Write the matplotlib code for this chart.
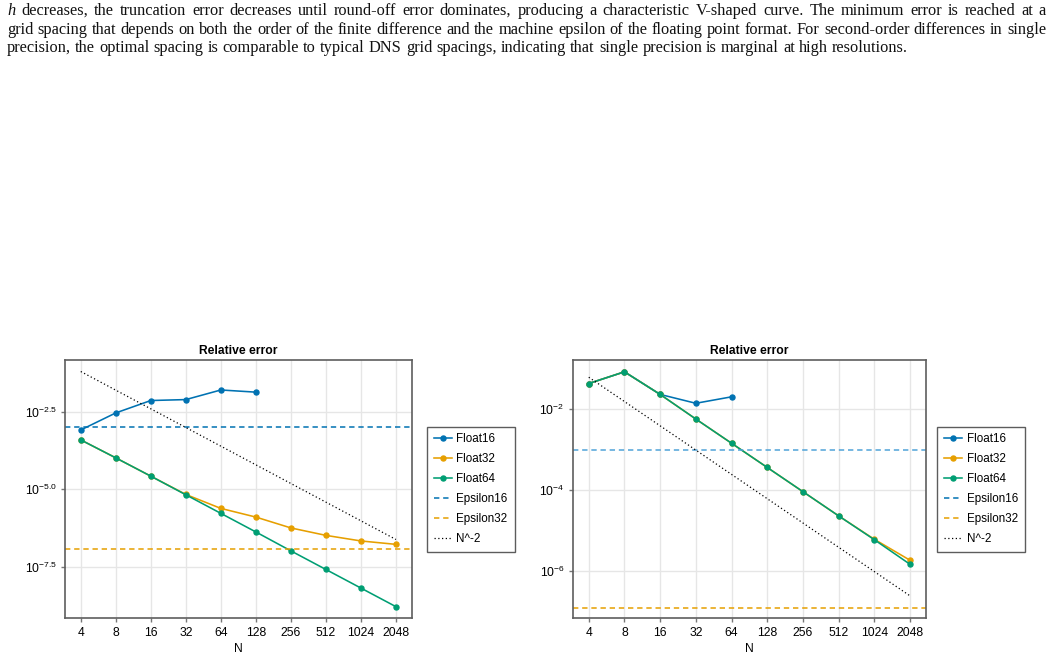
import numpy as np
import matplotlib
matplotlib.use("Agg")
import matplotlib.pyplot as plt

plt.rcParams["font.family"] = ["Liberation Sans", "DejaVu Sans"]
plt.rcParams["mathtext.fontset"] = "custom"
plt.rcParams["mathtext.rm"] = "Liberation Sans"
plt.rcParams["mathtext.it"] = "Liberation Sans:italic"

# data (log10 of the relative error)
N = [4, 8, 16, 32, 64, 128, 256, 512, 1024, 2048]

left_f16 = [-3.09, -2.54, -2.14, -2.11, -1.80, -1.87]
left_f32 = [-3.41, -3.99, -4.58, -5.17, -5.62, -5.90, -6.25, -6.49, -6.67, -6.78]
left_f64 = [-3.41, -3.99, -4.58, -5.18, -5.78, -6.38, -6.99, -7.59, -8.19, -8.79]

right_f16 = [-1.36, -1.07, -1.63, -1.85, -1.69]
right_f32 = [-1.36, -1.07, -1.63, -2.24, -2.84, -3.44, -4.04, -4.64, -5.22, -5.74]
right_f64 = [-1.36, -1.07, -1.63, -2.24, -2.84, -3.44, -4.04, -4.64, -5.23, -5.84]

eps16 = 2.0 ** -10
eps32 = 2.0 ** -23

left_yticks = [-2.5, -5.0, -7.5]
right_yticks = [-2, -4, -6]

paragraph = [
    "h decreases, the truncation error decreases until round-off error dominates, producing a characteristic V-shaped curve. The minimum error is reached at a",
    "grid spacing that depends on both the order of the finite difference and the machine epsilon of the floating point format. For second-order differences in single",
    "precision, the optimal spacing is comparable to typical DNS grid spacings, indicating that single precision is marginal at high resolutions.",
]

blue = "#0072B2"
orange = "#E69F00"
green = "#009E73"

W, H = 1053, 660
fig = plt.figure(figsize=(W / 100, H / 100), dpi=100)


def px_axes(x0, y0, x1, y1):
    return fig.add_axes([x0 / W, 1 - y1 / H, (x1 - x0) / W, (y1 - y0) / H])


def panel(ax, f16, f32, f64, eps16_color, yticks, ylim, ytick_fmt):
    Nf = np.array(N, dtype=float)
    ms = 3.6
    ax.plot(N[:len(f16)], 10.0 ** np.array(f16), "-o", color=blue, lw=1.15, ms=ms, label="Float16")
    ax.plot(N, 10.0 ** np.array(f32), "-o", color=orange, lw=1.15, ms=ms, label="Float32")
    ax.plot(N, 10.0 ** np.array(f64), "-o", color=green, lw=1.15, ms=ms, label="Float64")
    ax.axhline(eps16, color=eps16_color, lw=1.1, ls=(0, (3.5, 2.5)), label="Epsilon16")
    ax.axhline(eps32, color=orange, lw=1.1, ls=(0, (3.5, 2.5)), label="Epsilon32")
    ax.plot(N, Nf ** -2, color="black", lw=0.9, ls=(0, (1, 2)), label="N^-2")

    ax.set_xscale("log", base=2)
    ax.set_yscale("log")
    ax.set_xlim(2 ** 1.55, 2 ** 11.45)
    ax.set_ylim(10.0 ** ylim[0], 10.0 ** ylim[1])
    ax.set_xticks(N)
    ax.set_xticklabels([str(n) for n in N])
    ax.set_yticks([10.0 ** t for t in yticks])
    ax.set_yticklabels([ytick_fmt(t) for t in yticks])
    ax.minorticks_off()
    ax.tick_params(length=3, width=1, color="#777777", labelsize=8.7, pad=3)
    ax.grid(True, color="#e6e6e6", lw=1)
    ax.set_axisbelow(True)
    for s in ax.spines.values():
        s.set_color("#5e5e5e")
        s.set_linewidth(1.2)
    ax.set_title("Relative error", fontsize=8.7, fontweight="bold", pad=4)
    ax.set_xlabel("N", fontsize=8.7, labelpad=3)


ax1 = px_axes(65, 360, 411.7, 618.3)
panel(ax1, left_f16, left_f32, left_f64, blue, left_yticks, (-9.165, -0.833),
      lambda t: r"$10^{%.1f}$" % t)
ax2 = px_axes(572.7, 360, 926, 618.3)
panel(ax2, right_f16, right_f32, right_f64, "#4fa3d8", right_yticks, (-7.18, -0.777),
      lambda t: r"$10^{%d}$" % t)

for ax, x0 in ((ax1, 426.7), (ax2, 937.3)):
    h, l = ax.get_legend_handles_labels()
    leg = fig.legend(h, l, loc="upper left", bbox_to_anchor=(x0 / W, 1 - 426.5 / H),
                     fontsize=8.4, frameon=True, fancybox=False, borderpad=0.6,
                     handlelength=1.55, handletextpad=0.4, labelspacing=0.68,
                     borderaxespad=0)
    leg.get_frame().set_edgecolor("#333333")
    leg.get_frame().set_linewidth(1.0)
    if ax is ax2:
        leg.get_lines()[3].set_color(blue)

# justified paragraph at the top
renderer = fig.canvas.get_renderer()
serif = ["Liberation Serif", "DejaVu Serif"]
base_fs = 11.5
x_left, x_right = 7, 1046
baselines = [15, 34, 52.5]


def measure(words, fs):
    out = []
    for i, w in enumerate(words):
        t = fig.text(0, 0, w, fontsize=fs, family=serif,
                     style="italic" if (w == "h" and i == 0) else "normal")
        out.append(t.get_window_extent(renderer).width)
        t.remove()
    return out


natural = []
for line in paragraph:
    ws = line.split()
    widths = measure(ws, base_fs)
    natural.append(sum(widths) + 0.25 * base_fs * 100 / 72 * (len(ws) - 1))
scale = (x_right - x_left) * 0.995 / max(natural[:2])
fs = base_fs * scale

for k, line in enumerate(paragraph):
    ws = line.split()
    widths = measure(ws, fs)
    if k < len(paragraph) - 1:
        gap = ((x_right - x_left) - sum(widths)) / (len(ws) - 1)
    else:
        gap = 0.25 * fs * 100 / 72
    x = x_left
    for i, (w, wd) in enumerate(zip(ws, widths)):
        fig.text(x / W, 1 - baselines[k] / H, w, fontsize=fs, family=serif,
                 style="italic" if (k == 0 and i == 0) else "normal",
                 va="baseline", ha="left", color="#111111")
        x += wd + gap

fig.savefig("out.png", dpi=100)
